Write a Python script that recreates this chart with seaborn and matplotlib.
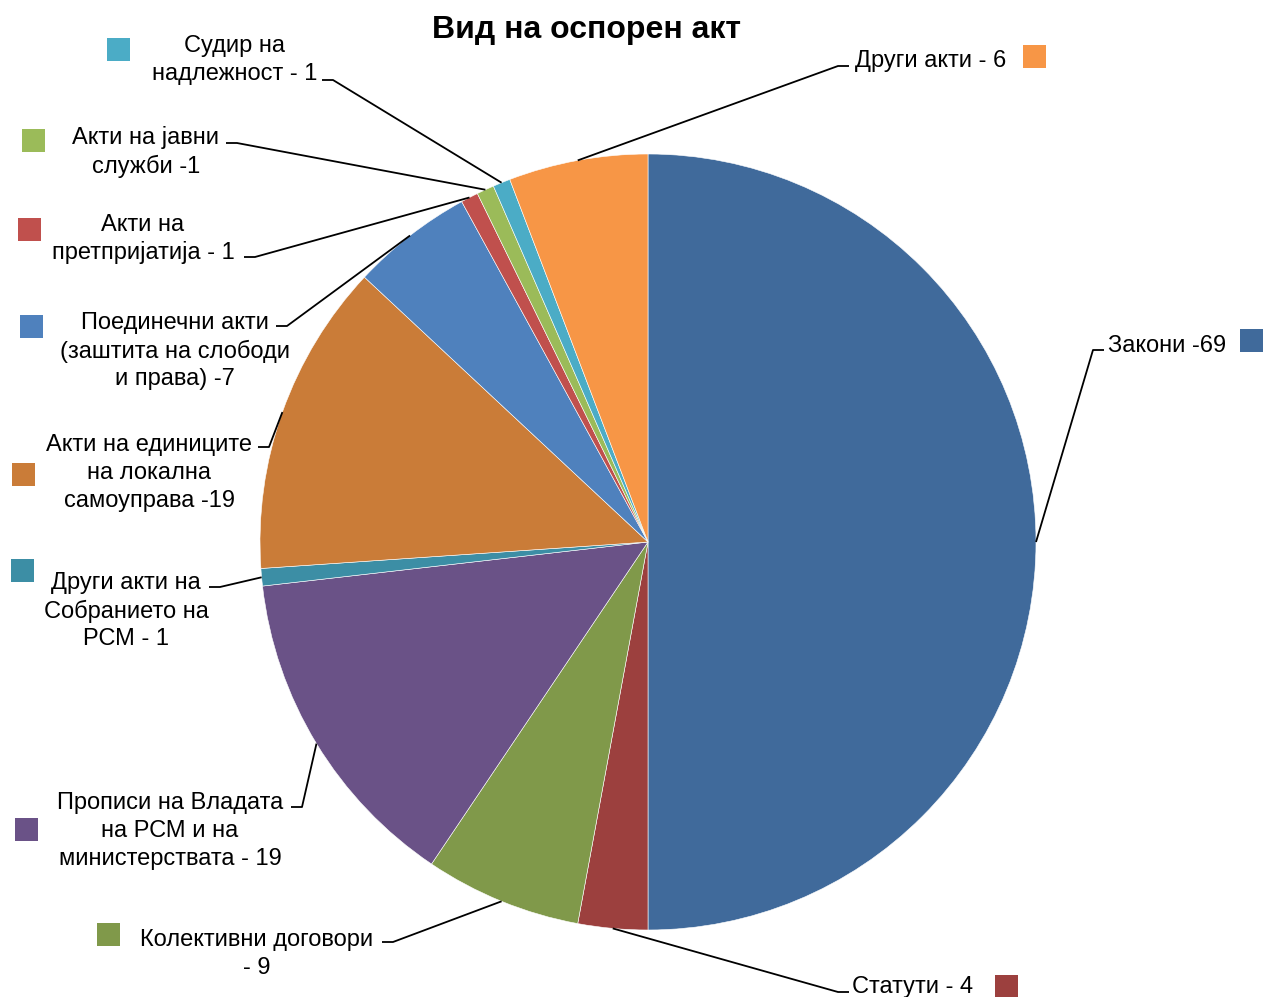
import numpy as np
import matplotlib
matplotlib.use("Agg")
import matplotlib.pyplot as plt
from matplotlib.patches import Rectangle
import seaborn as sns

# slice sizes as drawn (Закони takes exactly half the pie)
values = [69, 4, 9, 19, 1, 18, 7, 1, 1, 1, 8]
labels = [
    "Закони -69",
    "Статути - 4",
    "Колективни договори\n- 9",
    "Прописи на Владата\nна РСМ и на\nминистерствата - 19",
    "Други акти на\nСобранието на\nРСМ - 1",
    "Акти на единиците\nна локална\nсамоуправа -19",
    "Поединечни акти\n(заштита на слободи\nи права) -7",
    "Акти на\nпретпријатија - 1",
    "Акти на јавни\nслужби -1",
    "Судир на\nнадлежност - 1",
    "Други акти - 6",
]
colors = ["#406A9B", "#9C403E", "#80994A", "#6A5287", "#3C8EA5", "#CA7C38",
          "#4F81BD", "#C0504D", "#9BBB59", "#4BACC6", "#F79646"]

# label layout in pixels (top-down): elbow point, tick direction, text anchor, align, key centre
layout = [
    (1093, 350, 1, 1108, 346, "left", 1251, 341),
    (838, 992, 1, 852, 987, "left", 1006, 986),
    (393, 942, -1, 257, 954, "center", 108, 935),
    (302, 807, -1, 170, 831, "center", 26, 830),
    (220, 587, -1, 126, 611, "center", 22, 571),
    (269, 447, -1, 149, 473, "center", 23, 475),
    (287, 326, -1, 175, 351, "center", 31, 327),
    (255, 257, -1, 143, 239, "center", 29, 230),
    (237, 143, -1, 146, 152, "center", 33, 141),
    (333, 80, -1, 235, 60, "center", 118, 50),
    (838, 66, 1, 855, 61, "left", 1034, 57),
]

W, H = 1264, 997

sns.set_theme(style="white")
plt.rcParams["font.family"] = ["Liberation Sans", "DejaVu Sans"]

fig = plt.figure(figsize=(W / 100, H / 100), dpi=100)
ax = fig.add_axes([0, 0, 1, 1])

cx, cy, r = 648, H - 542, 388
wedges, _ = ax.pie(values, colors=sns.color_palette(colors), startangle=90,
                   counterclock=False, center=(cx, cy), radius=r,
                   wedgeprops=dict(edgecolor="white", linewidth=0.4))
ax.set_xlim(0, W)
ax.set_ylim(0, H)
ax.axis("off")

for w, lab, col, (ex, ey, d, tx, ty, ha, kx, ky) in zip(wedges, labels, colors, layout):
    mid = np.deg2rad((w.theta1 + w.theta2) / 2)
    sx, sy = cx + r * np.cos(mid), cy + r * np.sin(mid)
    ax.plot([sx, ex, ex + 11 * d], [sy, H - ey, H - ey], color="black", lw=1.3,
            solid_capstyle="butt")
    ax.text(tx, H - ty, lab, ha=ha, va="center", multialignment="center",
            fontsize=17, linespacing=1.33, color="black")
    ax.add_patch(Rectangle((kx - 11.5, H - ky - 11.5), 23, 23, facecolor=col,
                           edgecolor="none"))

ax.text(587, H - 30, "Вид на оспорен акт", ha="center", va="center",
        fontsize=23, fontweight="bold", color="black")

fig.savefig("out.png", dpi=100)
